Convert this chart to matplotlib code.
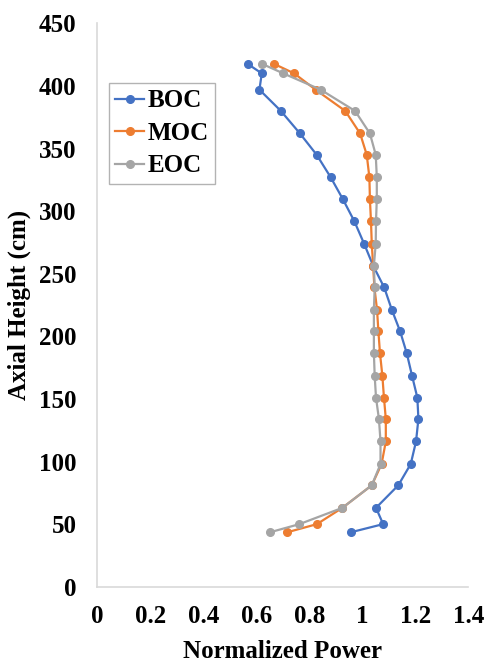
import matplotlib.pyplot as plt
from matplotlib.ticker import FormatStrFormatter

# axial heights (cm) of the nodes, top to bottom
height = [417.5, 410, 397, 380, 362, 345, 327, 309.5, 292, 274, 256.5, 239,
          221, 204, 186.5, 168.5, 151, 134, 116, 98, 81, 63, 50, 43.5]

boc = [0.567, 0.620, 0.611, 0.692, 0.764, 0.827, 0.880, 0.926, 0.969, 1.006, 1.040, 1.082,
       1.111, 1.142, 1.167, 1.187, 1.207, 1.211, 1.202, 1.182, 1.135, 1.051, 1.078, 0.956]
moc = [0.667, 0.742, 0.823, 0.935, 0.991, 1.016, 1.026, 1.028, 1.032, 1.035, 1.040, 1.045,
       1.055, 1.060, 1.066, 1.075, 1.081, 1.088, 1.088, 1.072, 1.035, 0.924, 0.828, 0.716]
eoc = [0.622, 0.701, 0.842, 0.972, 1.028, 1.050, 1.054, 1.054, 1.051, 1.050, 1.043, 1.046,
       1.043, 1.043, 1.043, 1.046, 1.051, 1.062, 1.068, 1.068, 1.035, 0.924, 0.762, 0.651]

plt.rcParams['font.family'] = ['Liberation Serif', 'DejaVu Serif']
plt.rcParams['font.weight'] = 'bold'

fig = plt.figure(figsize=(4.87, 6.62), dpi=100)
ax = fig.add_axes([0.2002, 0.1137, 0.7618, 0.8511])

ax.plot(boc, height, color='#4472C4', linewidth=1.6, marker='o', markersize=5.5, label='BOC')
ax.plot(moc, height, color='#ED7D31', linewidth=1.6, marker='o', markersize=5.5, label='MOC')
ax.plot(eoc, height, color='#A5A5A5', linewidth=1.6, marker='o', markersize=5.5, label='EOC')

ax.set_xlim(0, 1.4)
ax.set_ylim(0, 450)
ax.set_xticks([0, 0.2, 0.4, 0.6, 0.8, 1.0, 1.2, 1.4])
ax.set_yticks(range(0, 451, 50))
ax.xaxis.set_major_formatter(FormatStrFormatter('%g'))
ax.tick_params(length=0, labelsize=18, pad=13)
ax.tick_params(axis='y', pad=15)

for side in ['top', 'right']:
    ax.spines[side].set_visible(False)
for side in ['left', 'bottom']:
    ax.spines[side].set_color('#D9D9D9')
    ax.spines[side].set_linewidth(1.2)

ax.set_xlabel('Normalized Power', fontsize=18, fontweight='bold', labelpad=9)
ax.set_ylabel('Axial Height (cm)', fontsize=18, fontweight='bold', labelpad=6)

leg = ax.legend(loc='upper left', bbox_to_anchor=(0.031, 0.894), fontsize=18,
                frameon=True, fancybox=False, handlelength=1.15, handletextpad=0.15,
                borderpad=0.25, labelspacing=0.38, borderaxespad=0)
leg.get_frame().set_edgecolor('#A0A0A0')
leg.get_frame().set_linewidth(1.0)

fig.savefig('out.png', dpi=100)
